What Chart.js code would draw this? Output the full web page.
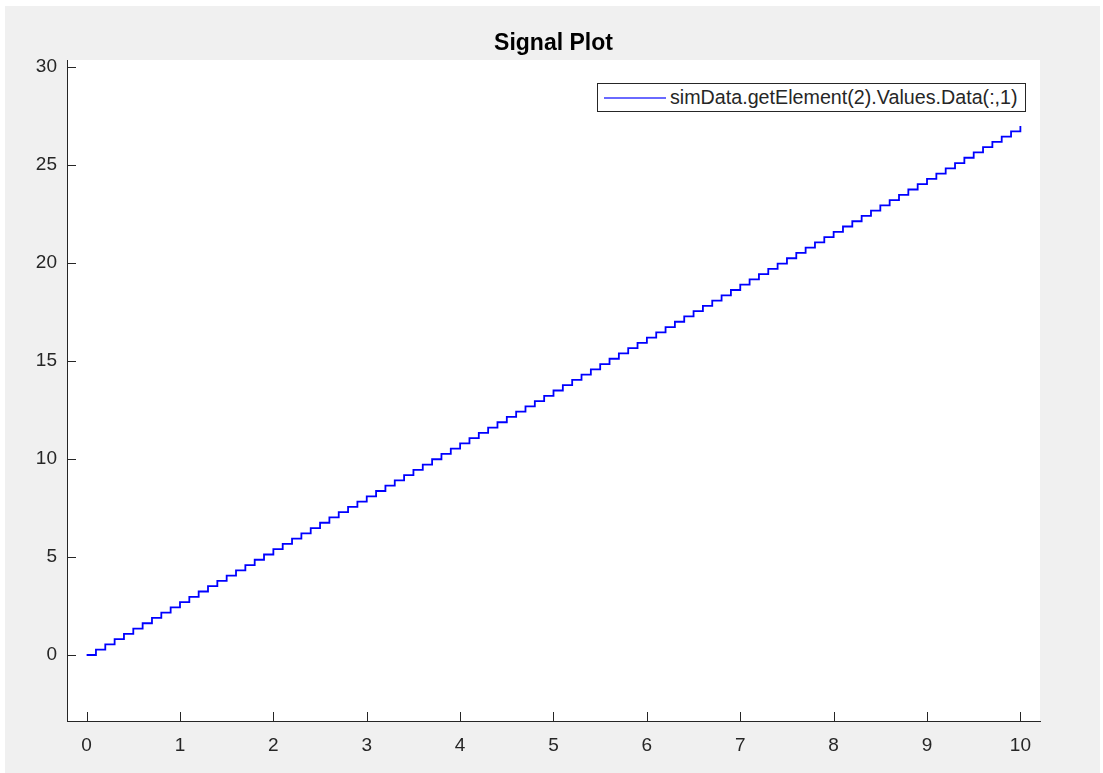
<!DOCTYPE html>
<html>
<head>
<meta charset="utf-8">
<script src="https://cdn.jsdelivr.net/npm/chart.js@4"></script>
<style>
  html, body { margin: 0; padding: 0; background: #ffffff; }
  #fig { position: absolute; left: 5px; top: 6px; width: 1095px; height: 767px; background: #f0f0f0; }
  #wrap { position: absolute; left: 0; top: 0; width: 1103px; height: 773px; }
  #legend {
    position: absolute; left: 597px; top: 83px; width: 427px; height: 27px;
    border: 1px solid #262626; background: #ffffff;
    font-family: "Liberation Sans", Arial, sans-serif; font-size: 19.7px; color: #262626;
  }
  #legend .swatch { position: absolute; left: 6px; top: 13px; width: 62px; height: 2px; background: #6a6aff; }
  #legend .text { position: absolute; left: 72px; top: 2px; line-height: 23px; white-space: nowrap; }
</style>
</head>
<body>
<div id="fig"></div>
<div id="wrap">
  <canvas id="signalChart" width="1103" height="773"></canvas>
  <div id="legend"><span class="swatch"></span><span class="text"></span></div>
</div>
<script>
// time vector (s)
var timeValues = [
  0, 0.1, 0.2, 0.3, 0.4, 0.5, 0.6, 0.7, 0.8, 0.9,
  1, 1.1, 1.2, 1.3, 1.4, 1.5, 1.6, 1.7, 1.8, 1.9,
  2, 2.1, 2.2, 2.3, 2.4, 2.5, 2.6, 2.7, 2.8, 2.9,
  3, 3.1, 3.2, 3.3, 3.4, 3.5, 3.6, 3.7, 3.8, 3.9,
  4, 4.1, 4.2, 4.3, 4.4, 4.5, 4.6, 4.7, 4.8, 4.9,
  5, 5.1, 5.2, 5.3, 5.4, 5.5, 5.6, 5.7, 5.8, 5.9,
  6, 6.1, 6.2, 6.3, 6.4, 6.5, 6.6, 6.7, 6.8, 6.9,
  7, 7.1, 7.2, 7.3, 7.4, 7.5, 7.6, 7.7, 7.8, 7.9,
  8, 8.1, 8.2, 8.3, 8.4, 8.5, 8.6, 8.7, 8.8, 8.9,
  9, 9.1, 9.2, 9.3, 9.4, 9.5, 9.6, 9.7, 9.8, 9.9,
  10
];

// signal samples
var signalValues = [
  0, 0.27, 0.54, 0.81, 1.08, 1.35, 1.62, 1.89, 2.16, 2.43,
  2.7, 2.97, 3.24, 3.51, 3.78, 4.05, 4.32, 4.59, 4.86, 5.13,
  5.4, 5.67, 5.94, 6.21, 6.48, 6.75, 7.02, 7.29, 7.56, 7.83,
  8.1, 8.37, 8.64, 8.91, 9.18, 9.45, 9.72, 9.99, 10.26, 10.53,
  10.8, 11.07, 11.34, 11.61, 11.88, 12.15, 12.42, 12.69, 12.96, 13.23,
  13.5, 13.77, 14.04, 14.31, 14.58, 14.85, 15.12, 15.39, 15.66, 15.93,
  16.2, 16.47, 16.74, 17.01, 17.28, 17.55, 17.82, 18.09, 18.36, 18.63,
  18.9, 19.17, 19.44, 19.71, 19.98, 20.25, 20.52, 20.79, 21.06, 21.33,
  21.6, 21.87, 22.14, 22.41, 22.68, 22.95, 23.22, 23.49, 23.76, 24.03,
  24.3, 24.57, 24.84, 25.11, 25.38, 25.65, 25.92, 26.19, 26.46, 26.73,
  27
];

var xTicks = [0, 1, 2, 3, 4, 5, 6, 7, 8, 9, 10];
var yTicks = [0, 5, 10, 15, 20, 25, 30];
var seriesLabel = "simData.getElement(2).Values.Data(:,1)";
var chartTitle = "Signal Plot";

var axisColor = "#262626";
var fontFamily = "'Liberation Sans', Arial, sans-serif";

document.querySelector("#legend .text").textContent = seriesLabel;

// white axes background + inward tick marks like matlab
var matlabAxes = {
  id: "matlabAxes",
  beforeDraw: function(chart) {
    var a = chart.chartArea, ctx = chart.ctx;
    ctx.save();
    ctx.fillStyle = "#ffffff";
    ctx.fillRect(a.left, a.top, a.right - a.left, a.bottom - a.top);
    ctx.restore();
  },
  afterDraw: function(chart) {
    var a = chart.chartArea, ctx = chart.ctx;
    var xs = chart.scales.x, ys = chart.scales.y;
    var len = 9;
    ctx.save();
    ctx.strokeStyle = axisColor;
    ctx.lineWidth = 1;
    ctx.beginPath();
    xTicks.forEach(function(v) {
      var px = Math.round(xs.getPixelForValue(v)) + 0.5;
      ctx.moveTo(px, a.bottom);
      ctx.lineTo(px, a.bottom - len);
    });
    yTicks.forEach(function(v) {
      var py = Math.round(ys.getPixelForValue(v)) + 0.5;
      ctx.moveTo(a.left, py);
      ctx.lineTo(a.left + len, py);
    });
    ctx.stroke();
    ctx.restore();
  }
};

var ctx = document.getElementById("signalChart").getContext("2d");

var signalChart = new Chart(ctx, {
  type: "line",
  data: {
    datasets: [{
      label: seriesLabel,
      data: timeValues.map(function(t, i) { return { x: t, y: signalValues[i] }; }),
      borderColor: "#0000ff",
      borderWidth: 1.8,
      pointRadius: 0,
      stepped: "before",
      fill: false
    }]
  },
  options: {
    responsive: false,
    animation: false,
    layout: { padding: { left: 0, right: 63, top: 0, bottom: 0 } },
    plugins: {
      legend: { display: false },
      tooltip: { enabled: false },
      title: {
        display: true,
        text: chartTitle,
        fullSize: false,
        color: "#000000",
        font: { family: fontFamily, size: 23, weight: "bold", lineHeight: 1.2 },
        padding: { top: 30, bottom: 2.4 }
      }
    },
    scales: {
      x: {
        type: "linear",
        min: -0.21,
        max: 10.21,
        afterFit: function(s) { s.height = 52; },
        afterBuildTicks: function(s) { s.ticks = xTicks.map(function(v) { return { value: v }; }); },
        grid: { display: true, drawOnChartArea: false, drawTicks: false },
        border: { display: true, color: axisColor, width: 1 },
        ticks: {
          color: axisColor,
          padding: 13,
          maxRotation: 0,
          font: { family: fontFamily, size: 19 }
        }
      },
      y: {
        type: "linear",
        min: -3.37,
        max: 30.37,
        afterFit: function(s) { s.width = 67; },
        afterBuildTicks: function(s) { s.ticks = yTicks.map(function(v) { return { value: v }; }); },
        grid: { display: true, drawOnChartArea: false, drawTicks: false },
        border: { display: true, color: axisColor, width: 1 },
        ticks: {
          color: axisColor,
          padding: 10,
          font: { family: fontFamily, size: 19 }
        }
      }
    }
  },
  plugins: [matlabAxes]
});
</script>
</body>
</html>
